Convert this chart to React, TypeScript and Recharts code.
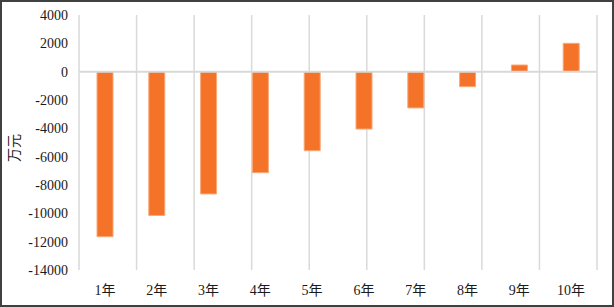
import { BarChart, Bar, XAxis, YAxis, CartesianGrid, ReferenceLine, Label } from "recharts"

const years = ["1年", "2年", "3年", "4年", "5年", "6年", "7年", "8年", "9年", "10年"]
const cashFlow = [-11650, -10150, -8630, -7130, -5580, -4050, -2560, -1060, 470, 2000]
const yTicks = [4000, 2000, 0, -2000, -4000, -6000, -8000, -10000, -12000, -14000]
const gridTicks = [0, 1, 2, 3, 4, 5, 6, 7, 8, 9, 10]

const data = years.map((year, i) => ({ year, value: cashFlow[i] }))

const font = "Liberation Serif, Noto Sans CJK SC, serif"
const ink = "#1a1a1a"
const textStyle = { fontFamily: font, fontSize: 14, fill: ink }

const XTick = ({ x, y, payload }: any) => (
  <text x={x} y={y + 17} textAnchor="middle" style={textStyle}>
    {payload.value}
  </text>
)

const YTick = ({ x, y, payload }: any) => (
  <text x={x} y={y + 5} textAnchor="end" style={textStyle}>
    {payload.value}
  </text>
)

export default function App() {
  return (
    <div style={{ position: "fixed", left: 0, top: 0, width: 614, height: 307, background: "#fff", fontFamily: font }}>
      <BarChart
        width={614}
        height={307}
        data={data}
        margin={{ top: 15, right: 17, bottom: 0, left: 0 }}
        style={{ fontFamily: font }}
      >
        <XAxis xAxisId="grid" type="number" domain={[0, 10]} ticks={gridTicks} hide />
        <CartesianGrid xAxisId="grid" horizontal={false} stroke="#d9d9d9" strokeWidth={1.5} />
        <XAxis
          dataKey="year"
          axisLine={false}
          tickLine={false}
          height={37}
          interval={0}
          tick={<XTick />}
        />
        <YAxis
          width={79}
          domain={[-14000, 4000]}
          ticks={yTicks}
          interval={0}
          axisLine={false}
          tickLine={false}
          tickMargin={5}
          tick={<YTick />}
        >
          <Label
            content={() => (
              <text
                x={19}
                y={148}
                transform="rotate(-90 19 148)"
                textAnchor="middle"
                style={textStyle}
              >
                万元
              </text>
            )}
          />
        </YAxis>
        <ReferenceLine y={0} stroke="#d9d9d9" strokeWidth={2} />
        <Bar dataKey="value" fill="#F47329" stroke="#F9A877" strokeWidth={1} barSize={16} isAnimationActive={false} />
      </BarChart>
      <div
        style={{
          position: "absolute",
          inset: 0,
          border: "2px solid #404040",
          pointerEvents: "none",
        }}
      />
    </div>
  )
}
